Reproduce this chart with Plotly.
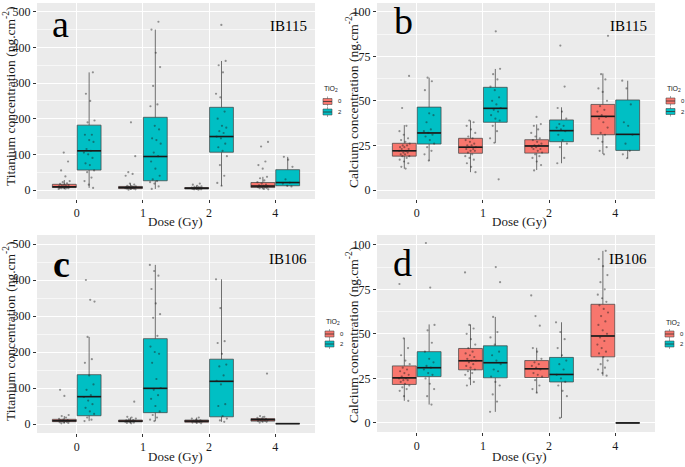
import plotly.graph_objects as go

doses = ["0", "1", "2", "4"]
tio2_levels = ["0", "2"]

# ---------- Panel a: Titanium, IB115 ----------
a_r_stats = dict(q1=[7, 4, 3, 7], med=[9, 7, 5, 11], q3=[16, 10, 7, 21], lf=[2, 1, 1, 2], uf=[28, 18, 12, 37])
a_t_stats = dict(q1=[56, 26, 106, 12], med=[110, 94, 150, 21], q3=[182, 204, 232, 57], lf=[6, 3, 12, 10], uf=[330, 450, 362, 93])
a_r_pts = [
    [3, 4, 5, 5, 6, 6, 7, 7, 8, 8, 9, 9, 10, 11, 12, 13, 14, 15, 17, 19, 22, 25, 38, 55, 80, 105],
    [1, 2, 3, 4, 4, 5, 5, 6, 6, 7, 7, 8, 8, 9, 10, 11, 12, 15, 18, 40, 45, 50, 95, 190],
    [1, 2, 2, 3, 3, 4, 4, 5, 5, 5, 6, 6, 7, 8, 9, 10, 12, 15, 18],
    [2, 3, 5, 6, 7, 8, 9, 10, 11, 12, 13, 15, 18, 22, 27, 33, 37, 60, 70, 80, 122, 135],
]
a_t_pts = [
    [6, 15, 25, 35, 50, 55, 70, 75, 90, 100, 105, 110, 115, 135, 140, 155, 155, 190, 195, 250, 270, 330],
    [3, 10, 18, 22, 25, 30, 40, 60, 80, 95, 105, 130, 140, 145, 170, 180, 235, 240, 292, 345, 385, 450, 472],
    [12, 20, 40, 70, 95, 110, 120, 130, 145, 150, 160, 165, 175, 180, 200, 220, 260, 270, 330, 350, 362, 463],
    [10, 12, 18, 21, 30, 65, 85, 93],
]

# ---------- Panel b: Calcium, IB115 ----------
b_r_stats = dict(q1=[19, 20.6, 20.7, 31], med=[22, 24, 24.7, 41.3], q3=[26.2, 29, 28.2, 48], lf=[12, 10, 11.2, 20.2], uf=[36.4, 39, 36.8, 65.4])
b_t_stats = dict(q1=[25.8, 38, 27.1, 22.2], med=[32, 45.8, 33.3, 31.2], q3=[46.5, 57.6, 39.3, 50.5], lf=[16.4, 26.5, 15, 17.8], uf=[63, 67.9, 46.4, 61.3])
b_r_pts = [
    [12, 13, 15, 16, 17, 18, 19, 19, 20, 20, 21, 21, 22, 22, 23, 23, 24, 24, 25, 25, 26, 27, 28, 29, 31, 33, 36, 46, 64],
    [10, 13, 15, 17, 18, 19, 20, 21, 22, 22, 23, 23, 24, 24, 25, 25, 26, 27, 28, 29, 30, 32, 34, 36, 38, 39],
    [11, 14, 16, 18, 19, 20, 21, 22, 23, 23, 24, 24, 25, 25, 26, 27, 28, 29, 30, 32, 34, 36, 37, 41],
    [20, 22, 24, 27, 29, 31, 32, 35, 38, 40, 41, 42, 44, 45, 47, 50, 55, 57, 62, 65, 86.5],
]
b_t_pts = [
    [16.5, 20, 22, 24, 26, 28, 30, 31, 32, 33, 34, 38, 42, 43, 56, 61, 63],
    [6, 26.5, 29, 33, 36, 39, 40, 42, 44, 45, 46, 48, 50, 52, 56, 58, 62, 65, 68, 89],
    [15, 18, 24, 26, 28, 31, 33, 34, 35, 36, 37, 40, 44, 46, 58, 81],
    [17.8, 20, 22, 26, 31, 36, 38, 48, 57, 61.3],
]

# ---------- Panel c: Titanium, IB106 ----------
c_r_stats = dict(q1=[6.5, 6, 5, 8], med=[9, 8, 8, 12], q3=[13, 11, 11, 15], lf=[2, 2, 2, 4], uf=[22, 18, 18, 22])
c_t_stats = dict(q1=[23, 31.5, 20, 1], med=[76, 99, 118.5, 1], q3=[137, 237, 180, 1], lf=[8, 8, 6, 1], uf=[242, 442, 402, 1])
c_r_pts = [
    [2, 3, 4, 5, 6, 7, 8, 9, 10, 11, 12, 14, 18, 22, 25, 78, 95],
    [2, 3, 4, 5, 6, 7, 8, 8, 9, 10, 11, 13, 15, 18, 20, 62],
    [2, 3, 4, 5, 6, 7, 8, 9, 10, 12, 15, 18],
    [4, 6, 7, 8, 9, 10, 11, 12, 13, 14, 15, 17, 20, 22, 140],
]
c_t_pts = [
    [8, 12, 18, 28, 35, 45, 55, 65, 75, 80, 95, 110, 135, 170, 180, 242, 340, 345, 400],
    [8, 12, 18, 25, 35, 50, 70, 80, 95, 100, 125, 170, 195, 200, 215, 245, 295, 305, 335, 375, 412, 425, 442],
    [6, 10, 15, 22, 50, 55, 110, 120, 135, 160, 165, 195, 225, 230, 322, 402],
    [],
]

# ---------- Panel d: Calcium, IB106 ----------
d_r_stats = dict(q1=[21.6, 29.8, 25.5, 37.1], med=[25.3, 34.9, 30.4, 48.8], q3=[32, 41.8, 35, 66.6], lf=[12.4, 21.2, 16.9, 26.5], uf=[47.5, 55.3, 42.2, 96.6])
d_t_stats = dict(q1=[26, 25.3, 23, 0], med=[31, 33.8, 27.2, 0], q3=[40, 43.3, 36.8, 0], lf=[10.3, 6.2, 2.8, 0], uf=[55.3, 59.5, 56.5, 0])
d_r_pts = [
    [12.4, 15, 18, 19, 20, 21, 22, 23, 24, 24, 25, 25, 26, 27, 28, 29, 30, 31, 33, 35, 38, 42, 47.5, 78],
    [21, 23, 25, 27, 28, 29, 30, 31, 32, 33, 34, 35, 35, 36, 37, 38, 39, 40, 42, 44, 47, 50, 53, 55, 84.5],
    [17, 19, 21, 24, 26, 27, 28, 30, 31, 32, 33, 34, 36, 40, 42, 54.6, 60, 71.6],
    [26.5, 28, 30, 31, 33, 35, 37, 39, 40, 42, 44, 46, 48, 50, 52, 55, 57, 60, 62, 64, 66, 68, 70, 72, 75, 79, 83, 88, 92, 96.6],
]
d_t_pts = [
    [10.3, 15, 19, 22, 25, 27, 28, 30, 31, 32, 34, 36, 40, 45, 52, 55, 76, 101],
    [6.2, 12, 16, 21, 23, 26, 29, 30, 33, 35, 38, 40, 44, 48, 51, 59.5, 79, 87.5],
    [2.8, 15, 18, 21, 23, 25, 27, 30, 33, 35, 38, 42, 47, 51, 56.5],
    [],
]

panel_letters = ["a", "b", "c", "d"]
panel_ids = ["IB115", "IB115", "IB106", "IB106"]
y_titles = ["Titanium concentration (ng.cm<sup>-2</sup>)", "Calcium concentration (ng.cm<sup>-2</sup>)",
            "Titanium concentration (ng.cm<sup>-2</sup>)", "Calcium concentration (ng.cm<sup>-2</sup>)"]
x_title = "Dose (Gy)"
legend_title = "TiO<sub>2</sub>"

panels = [
    (a_r_stats, a_t_stats, a_r_pts, a_t_pts),
    (b_r_stats, b_t_stats, b_r_pts, b_t_pts),
    (c_r_stats, c_t_stats, c_r_pts, c_t_pts),
    (d_r_stats, d_t_stats, d_r_pts, d_t_pts),
]

# ---------- styling / layout ----------
RED = "#F8766D"
TEAL = "#00BFC4"
COLS = [RED, TEAL]
SERIF = "Liberation Serif"
SANS = "Liberation Sans"
OFFSET = 0.1875
BOXW = 0.36

W, H = 685, 467
# plot areas in pixels: (left, right, top, bottom)
px_areas = [(37, 315, 3, 199), (377, 655, 3, 199), (37, 315, 235, 433), (377, 655, 235, 432)]
y_ranges = [[-25.2, 524.6], [-5.05, 104.9], [-25, 525], [-5.1, 105.5]]
y_major = [100, 25, 100, 25]
# legend: (key left x, title y, key1 y, key2 y)
legend_px = [(323, 89, 101.5, 112), (666, 89, 101, 111.5), (325, 322, 334, 344), (665, 323, 334, 344)]
letter_pos = [(60, 24), (403, 21), (61, 264), (402, 263)]
letter_bold = [False, False, True, False]
id_pos = [(288, 26), (628, 26), (288, 259), (628, 259)]
ytitle_pos = [(9, 97), (352, 100), (9, 332), (352, 335)]
xtitle_pos = [(175, 221.5), (519, 221.5), (175, 456), (519, 456)]

fig = go.Figure()


def jitter(k):
    return (((k * 0.6180339887) % 1.0) - 0.5) * 0.17


def px(x, y):
    return x / W, 1 - y / H


for p, (rs, ts, rp, tp) in enumerate(panels):
    sfx = "" if p == 0 else str(p + 1)
    xa, ya = "x" + sfx, "y" + sfx
    for g, (stats, pts) in enumerate([(rs, rp), (ts, tp)]):
        col = COLS[g]
        off = -OFFSET if g == 0 else OFFSET
        xs = [i + off for i in range(len(doses))]
        fig.add_trace(go.Box(
            x=xs, q1=stats["q1"], median=stats["med"], q3=stats["q3"],
            lowerfence=stats["lf"], upperfence=stats["uf"],
            width=BOXW, whiskerwidth=0, boxpoints=False,
            fillcolor=col, line=dict(color="rgba(70,70,70,0.75)", width=1),
            name=tio2_levels[g], xaxis=xa, yaxis=ya, showlegend=False,
            hoverinfo="skip",
        ))
        mx, my = [], []
        for i in range(len(doses)):
            mx += [xs[i] - BOXW / 2, xs[i] + BOXW / 2, None]
            my += [stats["med"][i], stats["med"][i], None]
        fig.add_trace(go.Scatter(x=mx, y=my, mode="lines", line=dict(color="#1a1a1a", width=1.6),
                                 xaxis=xa, yaxis=ya, showlegend=False, hoverinfo="skip"))
        jx, jy = [], []
        for i in range(len(doses)):
            for k, v in enumerate(pts[i]):
                jx.append(xs[i] + jitter(k + 7 * i + 3 * g + p))
                jy.append(v)
        fig.add_trace(go.Scatter(x=jx, y=jy, mode="markers",
                                 marker=dict(size=2.2, color="rgba(30,30,30,0.45)"),
                                 xaxis=xa, yaxis=ya, showlegend=False, hoverinfo="skip"))

    l, r, t, b = px_areas[p]
    fig.layout["xaxis" + sfx] = dict(
        domain=[l / W, r / W], anchor=ya, range=[-0.6, 3.6], tickvals=list(range(len(doses))), ticktext=doses,
        showgrid=True, gridcolor="white", gridwidth=1, zeroline=False,
        ticks="outside", ticklen=3, tickcolor="#333333",
        tickfont=dict(family=SERIF, size=12, color="#1a1a1a"),
        showline=False, automargin=False,
    )
    fig.layout["yaxis" + sfx] = dict(
        domain=[1 - b / H, 1 - t / H], anchor=xa, range=y_ranges[p], dtick=y_major[p], tick0=0,
        showgrid=True, gridcolor="white", gridwidth=1, zeroline=False,
        minor=dict(showgrid=True, gridcolor="rgba(255,255,255,0.6)", gridwidth=0.5, dtick=y_major[p] / 2, tick0=0),
        ticks="outside", ticklen=3, tickcolor="#333333",
        tickfont=dict(family=SERIF, size=12, color="#1a1a1a"),
        showline=False, automargin=False,
    )

    # axis titles
    tx, ty = ytitle_pos[p]
    fx, fy = px(tx, ty)
    fig.add_annotation(x=fx, y=fy, xref="paper", yref="paper", text=y_titles[p], textangle=-90,
                       showarrow=False, font=dict(family=SERIF, size=13.5, color="#1a1a1a"),
                       xanchor="center", yanchor="middle")
    tx, ty = xtitle_pos[p]
    fx, fy = px(tx, ty)
    fig.add_annotation(x=fx, y=fy, xref="paper", yref="paper", text=x_title, showarrow=False,
                       font=dict(family=SERIF, size=13, color="#1a1a1a"), xanchor="center", yanchor="middle")

    # panel letter and id
    lx, ly = letter_pos[p]
    fx, fy = px(lx, ly)
    txt = "<b>%s</b>" % panel_letters[p] if letter_bold[p] else panel_letters[p]
    fig.add_annotation(x=fx, y=fy, xref="paper", yref="paper", text=txt, showarrow=False,
                       font=dict(family=SERIF, size=38, color="black"), xanchor="center", yanchor="middle")
    ix, iy = id_pos[p]
    fx, fy = px(ix, iy)
    fig.add_annotation(x=fx, y=fy, xref="paper", yref="paper", text=panel_ids[p], showarrow=False,
                       font=dict(family=SERIF, size=15, color="black"), xanchor="center", yanchor="middle")

    # manual legend
    kx, tyy, k1, k2 = legend_px[p]
    fx, fy = px(kx - 1, tyy)
    fig.add_annotation(x=fx, y=fy, xref="paper", yref="paper", text=legend_title, showarrow=False,
                       font=dict(family=SANS, size=7, color="#1a1a1a"), xanchor="left", yanchor="middle")
    for g, ky in enumerate([k1, k2]):
        x0, y0 = px(kx, ky + 3)
        x1, y1 = px(kx + 9, ky - 3)
        xc, _ = px(kx + 4.5, ky)
        _, yt = px(0, ky - 5)
        _, yb = px(0, ky + 5)
        _, ym = px(0, ky)
        fig.add_shape(type="line", xref="paper", yref="paper", x0=xc, x1=xc, y0=yb, y1=yt,
                      line=dict(color="rgba(70,70,70,0.6)", width=0.8))
        fig.add_shape(type="rect", xref="paper", yref="paper", x0=x0, y0=y0, x1=x1, y1=y1,
                      fillcolor=COLS[g], line=dict(color="rgba(70,70,70,0.7)", width=0.8))
        fig.add_shape(type="line", xref="paper", yref="paper", x0=x0, x1=x1, y0=ym, y1=ym,
                      line=dict(color="#333333", width=0.8))
        lxx, lyy = px(kx + 13, ky)
        fig.add_annotation(x=lxx, y=lyy, xref="paper", yref="paper", text=tio2_levels[g], showarrow=False,
                           font=dict(family=SANS, size=6, color="#1a1a1a"), xanchor="left", yanchor="middle")

fig.update_layout(
    width=W, height=H, margin=dict(l=0, r=0, t=0, b=0),
    paper_bgcolor="white", plot_bgcolor="#EBEBEB",
    boxmode="overlay", showlegend=False,
)

fig.write_html("out.html", config={"displayModeBar": False},
               post_script="document.body.style.margin='0px';document.body.style.padding='0px';document.body.style.overflow='hidden';")
